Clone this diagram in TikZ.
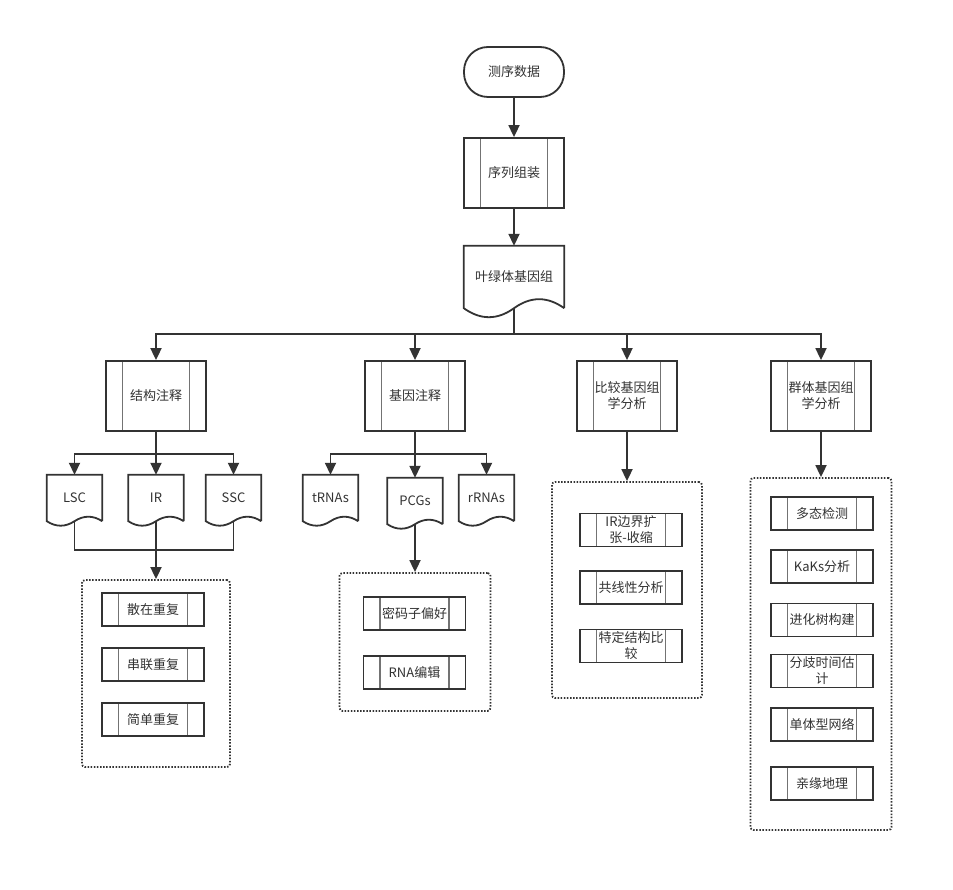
\documentclass[tikz,border=0pt]{standalone}
\usepackage{fontspec}
\usepackage{xcolor}
\usepackage{tikz}
\usetikzlibrary{arrows.meta,positioning,calc}
\newfontfamily\cjk{Noto Sans CJK SC}
\definecolor{ink}{HTML}{333333}
\tikzset{
    base/.style={
        font=\cjk\fontsize{13}{16}\selectfont, text=ink,
        align=center, inner sep=0pt
    },
    stadium/.style={
        base, rectangle, draw=ink, line width=1.8pt, rounded corners=24pt,
        minimum width=100pt, minimum height=50pt
    },
    procbox/.style={
        base, rectangle, draw=ink, line width=1.8pt,
        minimum width=100pt, minimum height=70pt,
        path picture={
            \draw[draw=black!55, line width=1.2pt]
                ([xshift=16.5pt]path picture bounding box.north west) --
                ([xshift=16.5pt]path picture bounding box.south west);
            \draw[draw=black!55, line width=1.2pt]
                ([xshift=-16.5pt]path picture bounding box.north east) --
                ([xshift=-16.5pt]path picture bounding box.south east);
        }
    },
    itembox/.style={procbox, minimum width=102pt, minimum height=33pt},
    docbox/.style={base, minimum width=55pt, minimum height=46pt},
    groupbox/.style={
        rectangle, draw=ink, line width=1.8pt, rounded corners=3pt,
        dash pattern=on 1.5pt off 1.6pt, inner sep=0pt
    },
    line/.style={draw=ink, line width=1.8pt},
    arrow/.style={line, -{Triangle[length=12pt,width=11pt]}}
}

\begin{document}
\begin{tikzpicture}[x=1pt,y=-1pt]

\useasboundingbox[fill=white] (0,0) rectangle (953,890);

% ---- Main chain ----
\node[stadium] (seq) at (514, 72) {测序数据};
\node[procbox] (asm) at (514, 173) {序列组装};
\node[docbox, minimum width=100pt, minimum height=62pt] (genome) at (514, 277) {叶绿体基因组};

% ---- Row 2 analyses (y=396) ----
\node[procbox] (struct) at (156, 396) {结构注释};
\node[procbox] (gene)   at (415, 396) {基因注释};
\node[procbox] (comp)   at (627, 396) {比较基因组\\学分析};
\node[procbox] (pop)    at (821, 396) {群体基因组\\学分析};

% ---- Row 3 documents ----
\node[docbox] (lsc)  at (74.5, 498) {LSC};
\node[docbox] (ir)   at (156,  498) {IR};
\node[docbox] (ssc)  at (233.5,498) {SSC};
\node[docbox] (trna) at (330.5,498) {tRNAs};
\node[docbox] (pcg)  at (415,  501) {PCGs};
\node[docbox] (rrna) at (486.5,498) {rRNAs};

% document outlines with wavy bottom
\foreach \n/\w/\d in {genome/100/12, lsc/55/6, ir/55/6, ssc/55/6, trna/55/6, pcg/55/6, rrna/55/6}
    \draw[line] (\n.south east) -- (\n.north east) -- (\n.north west) -- (\n.south west)
        .. controls +(\w/6, \d) and +(-\w/6, \d) .. (\n.south)
        .. controls +(\w/6, -\d) and +(-\w/6, -\d) .. (\n.south east);

% ---- Dotted groups ----
\node[groupbox, minimum width=148pt, minimum height=187pt] (repgrp) at (156, 673.5) {};
\node[groupbox, minimum width=151pt, minimum height=138pt] (codgrp) at (415, 642) {};
\node[groupbox, minimum width=150pt, minimum height=216pt] (cmpgrp) at (627, 590) {};
\node[groupbox, minimum width=141pt, minimum height=352pt] (popgrp) at (821, 654) {};

% repeats
\node[itembox] (rep1) at (153, 609.5) {散在重复};
\node[itembox] (rep2) at (153, 664.5) {串联重复};
\node[itembox] (rep3) at (153, 719.5) {简单重复};

% codon / editing
\node[itembox] (cod1) at (414.5, 613.5) {密码子偏好};
\node[itembox] (cod2) at (414.5, 672.5) {RNA编辑};

% comparative
\node[itembox] (cmp1) at (631, 530)   {IR边界扩\\张-收缩};
\node[itembox] (cmp2) at (631, 587.5) {共线性分析};
\node[itembox] (cmp3) at (631, 646)   {特定结构比\\较};

% population
\node[itembox] (pop1) at (822, 513.5) {多态检测};
\node[itembox] (pop2) at (822, 566.5) {KaKs分析};
\node[itembox] (pop3) at (822, 620)   {进化树构建};
\node[itembox] (pop4) at (822, 671)   {分歧时间估\\计};
\node[itembox] (pop5) at (822, 724.5) {单体型网络};
\node[itembox] (pop6) at (822, 783.5) {亲缘地理};

% Main chain flows
\draw[arrow] (seq) -- (asm);
\draw[arrow] (asm) -- (genome);

% genome -> four analyses
\foreach \t in {struct, gene, comp, pop}
    \draw[arrow] (genome.south) -- ++(0,26) -| (\t.north);

% structure -> regions
\foreach \t in {lsc, ir, ssc}
    \draw[arrow] (struct.south) -- ++(0,22) -| (\t.north);

% gene -> gene classes
\foreach \t in {trna, pcg, rrna}
    \draw[arrow] (gene.south) -- ++(0,22) -| (\t.north);

% regions merge into repeats
\draw[line] (lsc.south) -- ++(0,29) -| (ssc.south);
\draw[arrow] (ir.south) -- (repgrp.north);

% down into groups
\draw[arrow] (pcg.south) -- (codgrp.north);
\draw[arrow] (comp.south) -- (cmpgrp.north);
\draw[arrow] (pop.south) -- (popgrp.north);

\end{tikzpicture}
\end{document}
